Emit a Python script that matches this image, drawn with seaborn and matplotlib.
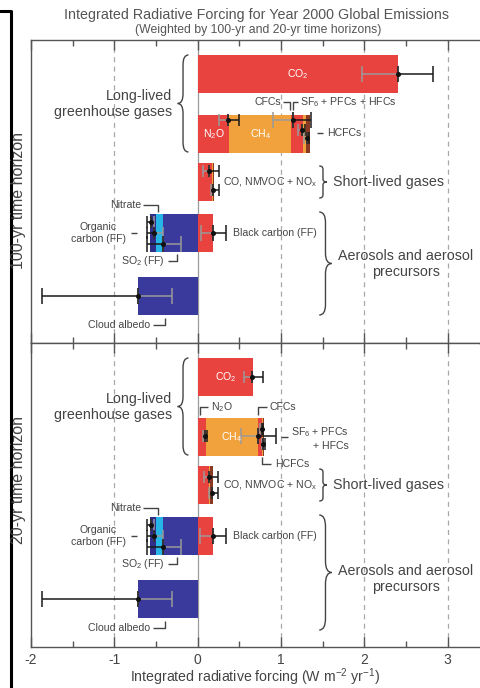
import numpy as np
import matplotlib.pyplot as plt
import seaborn as sns
from matplotlib.path import Path
from matplotlib.patches import PathPatch
from matplotlib.lines import Line2D

# row order in each panel: CO2, long-lived mix, short-lived gases, aerosols, cloud albedo
row_pos = [34, 94, 142, 193, 256]

# ---------------- 100-yr horizon (W m-2 yr-1) ----------------
co2_100 = [2.40]
ghg_100 = [0.38, 0.74, 0.15, 0.03, 0.05]    # N2O, CH4, CFCs, HCFCs, SF6+PFCs+HFCs
short_100 = [0.17, 0.02, 0.01]              # CO, NMVOC, NOx
bc_100 = [0.18]                             # black carbon (FF)
aer_100 = [-0.42, -0.08, -0.07]             # SO2 (FF), nitrate, organic carbon (FF)
cloud_100 = [-0.72]

# ---------------- 20-yr horizon ----------------
co2_20 = [0.67]
ghg_20 = [0.10, 0.62, 0.05, 0.02, 0.01]
short_20 = [0.14, 0.01, 0.03]
bc_20 = [0.18]
aer_20 = [-0.42, -0.08, -0.07]
cloud_20 = [-0.72]

# uncertainty: centre, grey low, grey high, black low, black high
err_100 = [
    [2.40, 1.97, 2.40, 2.40, 2.82],
    [0.36, 0.26, 0.36, 0.36, 0.50],
    [1.14, 0.90, 1.14, 1.14, 1.36],
    [1.25, 1.21, 1.25, 1.25, 1.29],
    [1.31, 1.28, 1.31, 1.31, 1.34],
    [0.14, 0.07, 0.14, 0.14, 0.26],
    [0.18, 0.16, 0.18, 0.18, 0.26],
    [0.18, 0.04, 0.18, 0.18, 0.34],
    [-0.56, -0.56, -0.52, -0.61, -0.56],
    [-0.52, -0.52, -0.41, -0.61, -0.52],
    [-0.42, -0.42, -0.20, -0.61, -0.42],
    [-0.72, -0.72, -0.31, -1.87, -0.72],
]
err_20 = [
    [0.65, 0.56, 0.65, 0.65, 0.78],
    [0.09, 0.06, 0.09, 0.09, 0.11],
    [0.72, 0.52, 0.72, 0.72, 0.94],
    [0.77, 0.75, 0.77, 0.77, 0.79],
    [0.79, 0.77, 0.79, 0.79, 0.81],
    [0.14, 0.08, 0.14, 0.14, 0.24],
    [0.17, 0.14, 0.17, 0.17, 0.24],
    [0.18, 0.03, 0.18, 0.18, 0.34],
    [-0.56, -0.56, -0.52, -0.61, -0.56],
    [-0.52, -0.52, -0.41, -0.61, -0.52],
    [-0.42, -0.42, -0.20, -0.61, -0.42],
    [-0.72, -0.72, -0.31, -1.87, -0.72],
]
# where each error bar sits: (row, vertical offset in px)
err_at_100 = [(0, 0), (1, -14), (1, -14), (1, -4), (1, 4), (2, -11), (2, 8),
              (3, 0), (3, -11), (3, 0), (3, 11), (4, 0)]
err_at_20 = [(0, 0), (1, -1), (1, -1), (1, -8), (1, 7), (2, -8), (2, 8),
             (3, 0), (3, -11), (3, 0), (3, 11), (4, 0)]

RED = '#E8433F'
ORANGE = '#F2A23C'
BROWN = '#8A3A22'
BLUE = '#3A3A9C'
DBLUE = '#2F2E88'
CYAN = '#27B4E6'
TXT = '#444444'

ghg_colors = [RED, ORANGE, RED, ORANGE, BROWN]
short_colors = [RED, ORANGE, BROWN]
aer_colors = [BLUE, CYAN, DBLUE]

sns.set_theme(style='white')
plt.rcParams['font.family'] = ['Liberation Sans', 'DejaVu Sans']
plt.rcParams['mathtext.fontset'] = 'custom'
plt.rcParams['mathtext.rm'] = 'Liberation Sans'
plt.rcParams['mathtext.it'] = 'Liberation Sans:italic'
plt.rcParams['axes.unicode_minus'] = False


def stack(ax, row, parts, colors):
    ends = np.cumsum(parts)
    for end, col in zip(ends[::-1], colors[::-1]):
        x = [end if i == row else 0.0 for i in range(len(row_pos))]
        sns.barplot(x=x, y=row_pos, orient='y', native_scale=True, color=col,
                    saturation=1, width=0.8, errorbar=None, linewidth=0, ax=ax)


def brace(ax, x_end, x_tip, y0, y1):
    ym = (y0 + y1) / 2
    xm = (x_end + x_tip) / 2
    r = (y1 - y0) * 0.1
    verts = [(x_end, y0), (xm, y0), (xm, y0 + r), (xm, ym - r), (xm, ym), (x_tip, ym),
             (xm, ym), (xm, ym + r), (xm, y1 - r), (xm, y1), (x_end, y1)]
    codes = [Path.MOVETO, Path.CURVE3, Path.CURVE3, Path.LINETO, Path.CURVE3, Path.CURVE3,
             Path.CURVE3, Path.CURVE3, Path.LINETO, Path.CURVE3, Path.CURVE3]
    ax.add_patch(PathPatch(Path(verts, codes), fc='none', ec=TXT, lw=1.0, zorder=4))


def leader(ax, xs, ys):
    ax.plot(xs, ys, color=TXT, lw=1.0, solid_capstyle='butt', zorder=4)


def small(ax, x, y, s, **kw):
    ax.text(x, y, s, fontsize=7.6, color=TXT, va='center', zorder=5, **kw)


def big(ax, x, y, s, **kw):
    ax.text(x, y, s, fontsize=10.3, color=TXT, va='center', linespacing=1.25, zorder=5, **kw)


def draw_panel(ax, co2, ghg, short, bc, aer, cloud, errs, err_at, height, aer_shift):
    for v in [-1, 1, 2, 3]:
        ax.axvline(v, color='#A8A8A8', lw=0.9, ls=(0, (4, 3.5)), zorder=0)
    ax.axvline(0, color='#9A9A9A', lw=0.9, zorder=0.5)

    stack(ax, 0, co2, [RED])
    stack(ax, 1, ghg, ghg_colors)
    stack(ax, 2, short, short_colors)
    stack(ax, 3, bc, [RED])
    stack(ax, 3, aer, aer_colors)
    stack(ax, 4, cloud, [BLUE])

    for (c, glo, ghi, blo, bhi), (row, dy) in zip(errs, err_at):
        y = row_pos[row] + dy
        big_bar = abs(bhi - blo) + abs(ghi - glo) > 0.3
        cs = 6 if big_bar else 4
        ax.errorbar(c, y, xerr=[[c - glo], [ghi - c]], fmt='none', ecolor='#999999',
                    elinewidth=1.1, capsize=cs, capthick=1.1, zorder=3)
        ax.errorbar(c, y, xerr=[[c - blo], [bhi - c]], fmt='none', ecolor='#1A1A1A',
                    elinewidth=1.1, capsize=cs, capthick=1.1, zorder=3)
        ax.plot(c, y, 'o', ms=2.6, color='#111111', zorder=3.5)

    ax.set_xlim(-2, 3.378)
    ax.set_ylim(height, 0)
    ax.set_yticks([])
    ax.set_ylabel('')
    ax.set_xticks(range(-2, 4))
    ax.set_xticks(np.arange(-1.5, 3.5, 1.0), minor=True)
    ax.tick_params(axis='x', which='both', direction='in', top=True, bottom=True,
                   colors='#555555', width=1.0, labelsize=10, labelcolor=TXT, pad=4)
    ax.tick_params(axis='x', which='major', length=7)
    ax.tick_params(axis='x', which='minor', length=4)
    for side in ['left', 'top', 'bottom']:
        ax.spines[side].set_color('#555555')
        ax.spines[side].set_linewidth(1.0)
    ax.spines['right'].set_visible(False)

    # shared group labels
    r = row_pos
    big(ax, -0.31, 64, 'Long-lived\ngreenhouse gases', ha='right', multialignment='right')
    brace(ax, -0.11, -0.24, 15, 112)
    small(ax, 0.30, r[2], 'CO, NMVOC + NO$_\\mathrm{x}$', ha='left')
    brace(ax, 1.46, 1.55, r[2] - 16, r[2] + 16)
    big(ax, 1.62, r[2], 'Short-lived gases', ha='left')

    small(ax, -0.68, r[3] - 28, 'Nitrate', ha='right')
    leader(ax, [-0.65, -0.48, -0.48], [r[3] - 28, r[3] - 28, r[3] - 21])
    small(ax, -0.86, r[3], 'Organic\ncarbon (FF)', ha='right', multialignment='center',
          linespacing=1.25)
    leader(ax, [-0.80, -0.73], [r[3], r[3]])
    small(ax, -0.40, r[3] + 28, 'SO$_2$ (FF)', ha='right')
    leader(ax, [-0.36, -0.25, -0.25], [r[3] + 28, r[3] + 28, r[3] + 21])
    small(ax, 0.43, r[3], 'Black carbon (FF)', ha='left')
    brace(ax, 1.46, 1.61, r[3] - 21, r[3] + 82 + aer_shift)
    big(ax, 2.50, r[3] + 31 + aer_shift, 'Aerosols and aerosol\nprecursors', ha='center',
        multialignment='center')
    small(ax, -0.57, r[4] + 29, 'Cloud albedo', ha='right')
    leader(ax, [-0.53, -0.39, -0.39], [r[4] + 29, r[4] + 29, r[4] + 22])

    ax.text(co2[0] / 2, r[0], 'CO$_2$', color='white', fontsize=7.6, ha='center',
            va='center', zorder=5)
    ax.text(ghg[0] + ghg[1] / 2, r[1], 'CH$_4$', color='white', fontsize=7.6,
            ha='center', va='center', zorder=5)


fig = plt.figure(figsize=(4.8, 6.88), dpi=100)
ax1 = fig.add_axes([31 / 480, 345 / 688, 448 / 480, 303 / 688])
ax2 = fig.add_axes([31 / 480, 41 / 688, 448 / 480, 304 / 688])

draw_panel(ax1, co2_100, ghg_100, short_100, bc_100, aer_100, cloud_100,
           err_100, err_at_100, 303, 0)
draw_panel(ax2, co2_20, ghg_20, short_20, bc_20, aer_20, cloud_20,
           err_20, err_at_20, 304, 12)
ax1.tick_params(axis='x', labelbottom=False)

# 100-yr specific labels
ax1.text(ghg_100[0] / 2, row_pos[1], 'N$_2$O', color='white', fontsize=7.6,
         ha='center', va='center', zorder=5)
small(ax1, 1.00, 62, 'CFCs', ha='right')
leader(ax1, [1.02, 1.11, 1.11], [62, 62, 70])
leader(ax1, [1.15, 1.15, 1.21], [70, 62, 62])
small(ax1, 1.23, 62, 'SF$_6$ + PFCs + HFCs', ha='left')
leader(ax1, [1.43, 1.51], [93, 93])
small(ax1, 1.55, 93, 'HCFCs', ha='left')

# 20-yr specific labels
leader(ax2, [0.03, 0.03, 0.13], [72, 64, 64])
small(ax2, 0.16, 64, 'N$_2$O', ha='left')
leader(ax2, [0.73, 0.73, 0.83], [72, 64, 64])
small(ax2, 0.86, 64, 'CFCs', ha='left')
leader(ax2, [1.00, 1.09], [94, 94])
small(ax2, 1.12, 95, 'SF$_6$ + PFCs\n+ HFCs', ha='left', multialignment='right',
      linespacing=1.2)
leader(ax2, [0.77, 0.77, 0.88], [114, 121, 121])
small(ax2, 0.93, 121, 'HCFCs', ha='left')

ax2.set_xlabel('Integrated radiative forcing (W m$^{-2}$ yr$^{-1}$)', fontsize=10.2,
               color=TXT, labelpad=0)

fig.text(257 / 480, 1 - 15 / 688, 'Integrated Radiative Forcing for Year 2000 Global Emissions',
         ha='center', va='center', fontsize=10.3, color='#555555')
fig.text(258 / 480, 1 - 30 / 688, '(Weighted by 100-yr and 20-yr time horizons)',
         ha='center', va='center', fontsize=8.8, color='#555555')
fig.text(19 / 480, 1 - 200 / 688, '100-yr time horizon', rotation=90, ha='center',
         va='center', fontsize=11.5, color=TXT)
fig.text(19 / 480, 1 - 480 / 688, '20-yr time horizon', rotation=90, ha='center',
         va='center', fontsize=11.5, color=TXT)
fig.add_artist(Line2D([0, 11 / 480, 11 / 480], [1 - 11 / 688, 1 - 11 / 688, 0],
                      color='black', lw=2.2, transform=fig.transFigure))

fig.savefig('out.png', dpi=100)
